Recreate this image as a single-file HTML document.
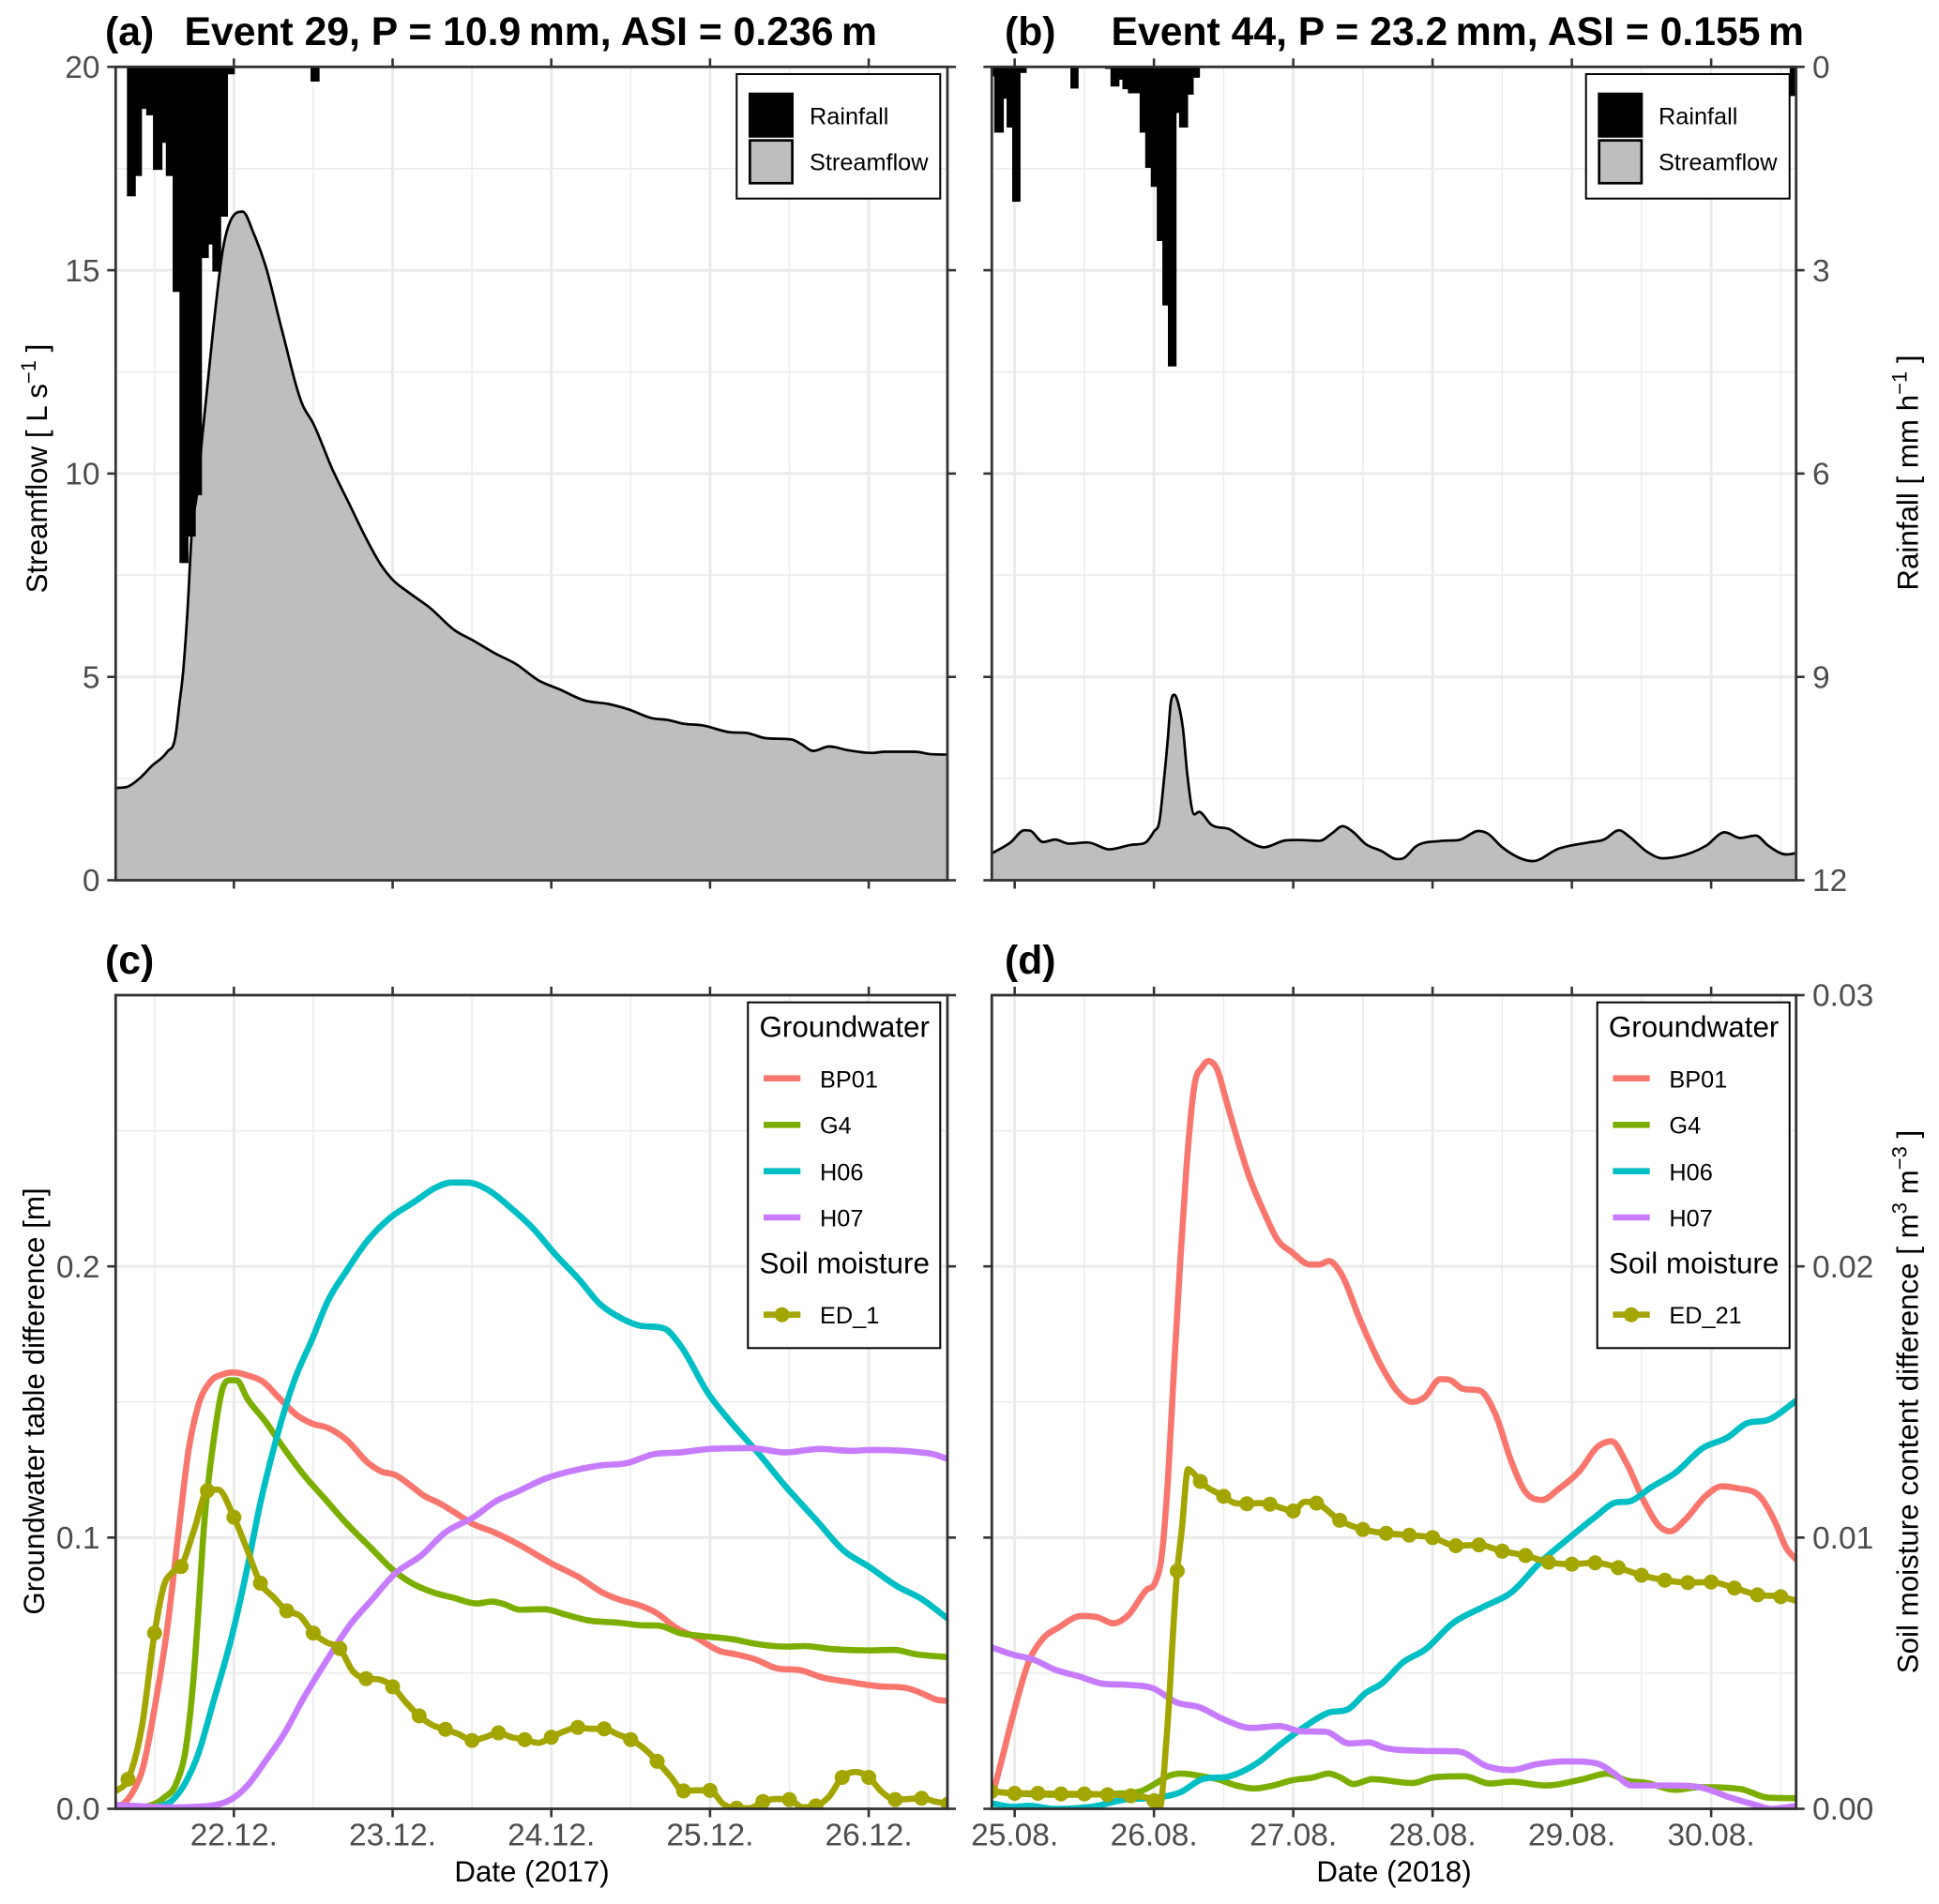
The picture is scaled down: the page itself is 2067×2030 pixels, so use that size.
<!DOCTYPE html>
<html lang="en">
<head>
<meta charset="utf-8">
<title>Event hydrographs</title>
<style>
html,body{margin:0;padding:0;background:#fff}
svg{display:block;font-family:"Liberation Sans",Arial,sans-serif}
.tick{font-size:33.5px;fill:#4d4d4d}
.axt{font-size:31.3px;fill:#000}
.ttl{font-size:42.7px;font-weight:bold;fill:#000}
.lgt{font-size:31.4px;fill:#000}
.lgl{font-size:25.3px;fill:#000}
</style>
</head>
<body>
<svg id="chart" xmlns="http://www.w3.org/2000/svg" width="2067" height="2030" viewBox="0 0 2067 2030">
<rect x="0" y="0" width="2067" height="2030" fill="#fff"/>
<defs>
<clipPath id="clip-a"><rect x="123.3" y="71.3" width="886.7" height="867.2"/></clipPath>
<clipPath id="clip-b"><rect x="1057.3" y="71.3" width="857.4" height="867.2"/></clipPath>
<clipPath id="clip-c"><rect x="123.3" y="1061" width="886.7" height="867.5"/></clipPath>
<clipPath id="clip-d"><rect x="1057.3" y="1061" width="857.4" height="867.5"/></clipPath>
</defs>
<g id="marks"></g>

<text class="ttl" x="112" y="48">(a)</text>
<text class="ttl" x="196.5" y="48">Event 29, P = 10.9&#8201;mm, ASI = 0.236&#8201;m</text>
<text class="ttl" x="1071" y="48">(b)</text>
<text class="ttl" x="1184.5" y="48">Event 44, P = 23.2&#8201;mm, ASI = 0.155&#8201;m</text>
<text class="ttl" x="112" y="1038">(c)</text>
<text class="ttl" x="1071" y="1038">(d)</text>

<text class="axt" transform="translate(50,499.5) rotate(-90)" text-anchor="middle">Streamflow [ L s<tspan font-size="22" dy="-12">&#8722;1</tspan><tspan dy="12"> ]</tspan></text>
<text class="axt" transform="translate(2044.5,504) rotate(-90)" text-anchor="middle">Rainfall [ mm h<tspan font-size="22" dy="-12">&#8722;1</tspan><tspan dy="12"> ]</tspan></text>
<text class="axt" transform="translate(47,1494) rotate(-90)" text-anchor="middle">Groundwater table difference [m]</text>
<text class="axt" transform="translate(2044.5,1494.5) rotate(-90)" text-anchor="middle">Soil moisture content difference [ m<tspan font-size="22" dy="-12">3</tspan><tspan dy="12"> m</tspan><tspan font-size="22" dy="-12">&#8722;3</tspan><tspan dy="12"> ]</tspan></text>
<text class="axt" x="567" y="2006" text-anchor="middle">Date (2017)</text>
<text class="axt" x="1486" y="2006" text-anchor="middle">Date (2018)</text>

<g>
<rect x="785.3" y="79" width="217" height="132.7" fill="#fff" stroke="#000" stroke-width="2"/>
<rect x="798" y="98.7" width="48" height="48" fill="#000"/>
<rect x="799.4" y="149.7" width="45.2" height="45.6" fill="#bebebe" stroke="#000" stroke-width="2.7"/>
<text class="lgl" x="863" y="132.3">Rainfall</text>
<text class="lgl" x="863" y="181.7">Streamflow</text>
</g>
<g>
<rect x="1690.7" y="79" width="217" height="132.7" fill="#fff" stroke="#000" stroke-width="2"/>
<rect x="1703.3" y="98.7" width="48" height="48" fill="#000"/>
<rect x="1704.7" y="149.7" width="45.2" height="45.6" fill="#bebebe" stroke="#000" stroke-width="2.7"/>
<text class="lgl" x="1768" y="132.3">Rainfall</text>
<text class="lgl" x="1768" y="181.7">Streamflow</text>
</g>
<g>
<rect x="797.3" y="1068.7" width="205" height="368.6" fill="#fff" stroke="#000" stroke-width="2"/>
<text class="lgt" x="809.5" y="1105.7">Groundwater</text>
<line x1="814" x2="853.3" y1="1149.7" y2="1149.7" stroke="#F8766D" stroke-width="6.6"/>
<text class="lgl" x="874" y="1159.3">BP01</text>
<line x1="814" x2="853.3" y1="1199.3" y2="1199.3" stroke="#7CAE00" stroke-width="6.6"/>
<text class="lgl" x="874" y="1208.7">G4</text>
<line x1="814" x2="853.3" y1="1248.7" y2="1248.7" stroke="#00BFC4" stroke-width="6.6"/>
<text class="lgl" x="874" y="1258.3">H06</text>
<line x1="814" x2="853.3" y1="1298" y2="1298" stroke="#C77CFF" stroke-width="6.6"/>
<text class="lgl" x="874" y="1307.7">H07</text>
<text class="lgt" x="809.5" y="1357.3">Soil moisture</text>
<line x1="814" x2="853.3" y1="1401.7" y2="1401.7" stroke="#A3A500" stroke-width="6.6"/>
<circle cx="833.6" cy="1401.7" r="8" fill="#A3A500"/>
<text class="lgl" x="874" y="1411">ED_1</text>
</g>
<g>
<rect x="1702.7" y="1068.7" width="205" height="368.6" fill="#fff" stroke="#000" stroke-width="2"/>
<text class="lgt" x="1714.9" y="1105.7">Groundwater</text>
<line x1="1719.4" x2="1758.7" y1="1149.7" y2="1149.7" stroke="#F8766D" stroke-width="6.6"/>
<text class="lgl" x="1779.4" y="1159.3">BP01</text>
<line x1="1719.4" x2="1758.7" y1="1199.3" y2="1199.3" stroke="#7CAE00" stroke-width="6.6"/>
<text class="lgl" x="1779.4" y="1208.7">G4</text>
<line x1="1719.4" x2="1758.7" y1="1248.7" y2="1248.7" stroke="#00BFC4" stroke-width="6.6"/>
<text class="lgl" x="1779.4" y="1258.3">H06</text>
<line x1="1719.4" x2="1758.7" y1="1298" y2="1298" stroke="#C77CFF" stroke-width="6.6"/>
<text class="lgl" x="1779.4" y="1307.7">H07</text>
<text class="lgt" x="1714.9" y="1357.3">Soil moisture</text>
<line x1="1719.4" x2="1758.7" y1="1401.7" y2="1401.7" stroke="#A3A500" stroke-width="6.6"/>
<circle cx="1739" cy="1401.7" r="8" fill="#A3A500"/>
<text class="lgl" x="1779.4" y="1411">ED_21</text>
</g>
</svg>

<script>
// ---------- Axis ticks ----------
const ticksDec = [22, 23, 24, 25, 26];
const ticksDecLabels = ['22.12.', '23.12.', '24.12.', '25.12.', '26.12.'];
const ticksAug = [25, 26, 27, 28, 29, 30];
const ticksAugLabels = ['25.08.', '26.08.', '27.08.', '28.08.', '29.08.', '30.08.'];
const streamTicks = [0, 5, 10, 15, 20];
const streamLabels = ['0', '5', '10', '15', '20'];
const rainTicks = [0, 3, 6, 9, 12];
const rainLabels = ['0', '3', '6', '9', '12'];
const gwTicks = [0, 0.1, 0.2];
const gwLabels = ['0.0', '0.1', '0.2'];
const soilTicks = [0, 0.01, 0.02, 0.03];
const soilLabels = ['0.00', '0.01', '0.02', '0.03'];

// ---------- Panel (a) streamflow [L/s] and rainfall [mm/h] ----------
const aFlowDays = [21.256,21.326,21.404,21.48,21.58,21.63,21.657,21.68,21.708,21.735,21.766,21.8,21.87,21.93,21.99,22.055,22.125,22.2,22.3,22.436,22.495,22.62,22.73,22.826,22.924,23,23.1,23.235,23.39,23.51,23.645,23.78,23.917,24.054,24.21,24.365,24.48,24.64,24.736,24.83,24.95,25.125,25.235,25.34,25.515,25.574,25.65,25.75,25.866,26.02,26.1,26.295,26.39,26.5];
const aFlowVals = [2.27,2.295,2.5,2.8,3.16,3.5,4.35,5.12,6.65,8.58,9.47,10.88,13.57,15.5,16.3,16.44,15.9,15.1,13.57,11.66,11.27,10.11,9.23,8.46,7.77,7.39,7.08,6.7,6.15,5.89,5.58,5.31,4.92,4.69,4.42,4.33,4.21,3.98,3.94,3.85,3.81,3.64,3.62,3.5,3.46,3.35,3.18,3.29,3.2,3.13,3.16,3.16,3.1,3.09];
const aRainEdges = [21.326,21.38,21.419,21.447,21.49,21.548,21.571,21.614,21.657,21.712,21.758,21.797,21.84,21.864,21.918,21.961,22.004,22.483,22.538];
const aRainVals = [1.91,1.61,0.62,0.715,1.52,1.12,1.61,3.32,7.32,6.93,6.32,2.82,2.62,3.02,2.21,0.11,0,0.217];

// ---------- Panel (b) streamflow and rainfall ----------
const bFlowDays = [24.836,24.97,25.07,25.11,25.204,25.29,25.39,25.524,25.68,25.835,25.93,26,26.04,26.066,26.1,26.12,26.146,26.18,26.208,26.24,26.29,26.323,26.41,26.545,26.656,26.79,26.945,27.034,27.19,27.28,27.354,27.425,27.52,27.633,27.744,27.79,27.88,28.055,28.19,28.33,28.39,28.5,28.72,28.9,29.12,29.23,29.34,29.41,29.54,29.65,29.76,29.964,30.097,30.21,30.32,30.41,30.54,30.617];
const bFlowVals = [0.66,0.93,1.23,1.22,0.94,1,0.9,0.93,0.76,0.87,0.91,1.2,1.47,2.27,3.5,4.35,4.56,4.27,3.73,2.58,1.62,1.68,1.37,1.25,1,0.81,0.98,0.99,0.97,1.16,1.33,1.2,0.89,0.72,0.52,0.54,0.83,0.965,0.99,1.21,1.16,0.81,0.47,0.77,0.93,1,1.23,1.08,0.7,0.54,0.58,0.85,1.18,1.04,1.1,0.85,0.635,0.67];
const bRainEdges = [24.836,24.853,24.92,24.942,24.982,25.04,25.084,25.4,25.457,25.648,25.688,25.75,25.773,25.813,25.857,25.897,25.937,25.977,26.02,26.06,26.1,26.16,26.18,26.243,26.283,26.328,30.564,30.617];
const bRainVals = [0.14,0.97,0.47,0.895,1.99,0.09,0,0.32,0,0.03,0.29,0.19,0.33,0.39,0.39,0.97,1.49,1.77,2.57,3.52,4.42,0.68,0.895,0.41,0.16,0,0.43];

// ---------- Panel (c) groundwater [m] and soil moisture [m3/m3] ----------
const cBp01Days = [21.256,21.287,21.365,21.423,21.5,21.58,21.657,21.715,21.774,21.852,21.93,22,22.086,22.183,22.28,22.4,22.495,22.59,22.71,22.846,22.924,23.02,23.12,23.196,23.294,23.39,23.5,23.645,23.8,24,24.17,24.33,24.42,24.58,24.66,24.79,24.91,25.07,25.16,25.28,25.42,25.57,25.71,25.87,26.06,26.24,26.33,26.43,26.5];
const cBp01Vals = [0,0.001,0.0064,0.0143,0.037,0.0666,0.105,0.1325,0.1484,0.1575,0.1602,0.1609,0.1598,0.1575,0.1518,0.145,0.142,0.1405,0.136,0.1275,0.1245,0.123,0.1189,0.1155,0.1127,0.1093,0.1052,0.1018,0.0973,0.0905,0.0855,0.0795,0.0773,0.0745,0.0723,0.0666,0.0632,0.058,0.057,0.0552,0.0518,0.0511,0.0484,0.0468,0.0452,0.0445,0.0427,0.0402,0.0398];
const cG4Days = [21.256,21.46,21.56,21.64,21.7,21.755,21.774,21.813,21.87,21.93,21.97,22.016,22.086,22.2,22.32,22.436,22.573,22.71,22.865,23,23.12,23.255,23.39,23.53,23.625,23.7,23.8,23.956,24.09,24.23,24.424,24.56,24.68,24.81,24.97,25.145,25.28,25.476,25.59,25.77,26,26.16,26.295,26.5];
const cG4Vals = [0,0.001,0.0041,0.0098,0.0234,0.055,0.0711,0.1052,0.1348,0.1552,0.158,0.158,0.1511,0.1427,0.1325,0.1234,0.1143,0.1052,0.0961,0.0882,0.0832,0.0798,0.0777,0.0757,0.0764,0.0755,0.0734,0.0736,0.0716,0.0695,0.0686,0.0677,0.0675,0.0648,0.0636,0.0625,0.0609,0.0598,0.06,0.0589,0.0584,0.0586,0.057,0.0559];
const cH06Days = [21.256,21.5,21.62,21.696,21.774,21.87,21.99,22.086,22.164,22.26,22.378,22.495,22.59,22.71,22.846,22.98,23.14,23.274,23.37,23.47,23.606,23.74,23.88,24.03,24.17,24.31,24.424,24.54,24.716,24.81,24.99,25.145,25.3,25.476,25.67,25.846,26,26.18,26.33,26.5];
const cH06Vals = [0,0.0007,0.0036,0.0098,0.02,0.0393,0.0643,0.0893,0.112,0.1348,0.1575,0.1734,0.187,0.1984,0.2098,0.2177,0.2239,0.2291,0.2309,0.2309,0.228,0.2218,0.2143,0.2041,0.1955,0.1859,0.1814,0.1784,0.177,0.1711,0.153,0.1416,0.1314,0.1189,0.1064,0.095,0.0893,0.082,0.0775,0.07];
const cH07Days = [21.256,21.44,21.58,21.85,22,22.086,22.2,22.32,22.436,22.59,22.73,22.865,23.02,23.18,23.33,23.51,23.645,23.8,23.956,24.11,24.31,24.48,24.64,24.81,25,25.26,25.476,25.69,25.885,26.02,26.295,26.41,26.5];
const cH07Vals = [0.0014,0.0009,0.0005,0.0011,0.0041,0.0086,0.0177,0.028,0.0405,0.0552,0.0677,0.0768,0.087,0.0934,0.1018,0.1075,0.1132,0.1173,0.1216,0.1243,0.1266,0.1275,0.1307,0.1314,0.1327,0.133,0.1314,0.1327,0.132,0.1323,0.1316,0.1307,0.1289];
const cEd1Days = [21.256,21.333,21.42,21.5,21.56,21.61,21.667,21.75,21.833,21.9,22,22.08,22.167,22.25,22.333,22.417,22.5,22.583,22.667,22.75,22.833,22.917,23,23.083,23.167,23.25,23.333,23.417,23.5,23.583,23.667,23.75,23.833,23.917,24,24.083,24.167,24.25,24.333,24.417,24.5,24.583,24.667,24.75,24.833,24.917,25,25.083,25.167,25.25,25.333,25.417,25.5,25.583,25.667,25.75,25.833,25.917,26,26.083,26.167,26.25,26.333,26.417,26.5];
const cEd1Vals = [0.00064,0.00109,0.00302,0.00648,0.00825,0.0087,0.00893,0.0103,0.01173,0.01177,0.01075,0.00961,0.00832,0.0078,0.0073,0.00711,0.00648,0.00614,0.00591,0.00507,0.0048,0.00477,0.0045,0.00393,0.00343,0.00309,0.00293,0.00275,0.00252,0.00264,0.0028,0.00264,0.00255,0.00243,0.00264,0.00286,0.003,0.00295,0.00295,0.00275,0.00255,0.00223,0.00175,0.0012,0.00066,0.00068,0.00068,0.00018,0.00002,0.00002,0.00027,0.00036,0.00034,0.00006,0.00011,0.00045,0.00116,0.00136,0.00116,0.00062,0.00034,0.00036,0.00039,0.00027,0.00018];

// ---------- Panel (d) groundwater and soil moisture ----------
const dBp01Days = [24.836,24.9,24.99,25.1,25.19,25.32,25.48,25.59,25.71,25.81,25.946,26.01,26.057,26.1,26.146,26.19,26.234,26.29,26.345,26.39,26.45,26.52,26.59,26.68,26.79,26.887,26.99,27.12,27.19,27.256,27.344,27.48,27.633,27.744,27.855,27.944,28.055,28.12,28.21,28.344,28.455,28.566,28.655,28.788,28.9,29.054,29.187,29.285,29.387,29.52,29.63,29.707,29.81,29.964,30.075,30.187,30.364,30.453,30.54,30.617];
const dBp01Vals = [0.0041,0.0166,0.0348,0.0541,0.062,0.067,0.0711,0.0707,0.0684,0.0711,0.0807,0.0836,0.0939,0.1211,0.1643,0.203,0.237,0.2666,0.2734,0.2757,0.273,0.2609,0.2484,0.2336,0.22,0.2098,0.2052,0.2007,0.2007,0.202,0.1973,0.1802,0.1632,0.1541,0.15,0.1518,0.1584,0.1582,0.155,0.1541,0.145,0.128,0.1177,0.1139,0.1177,0.1245,0.1336,0.1355,0.128,0.1132,0.1041,0.1023,0.1064,0.1155,0.1189,0.1182,0.1143,0.1064,0.0961,0.0916];
const dG4Days = [24.836,25,25.346,25.7,25.9,26.01,26.1,26.19,26.345,26.456,26.59,26.72,26.856,26.99,27.145,27.256,27.344,27.433,27.567,27.855,28.01,28.23,28.41,28.566,28.81,29.076,29.254,29.387,29.54,29.74,29.92,30.21,30.41,30.617];
const dG4Vals = [0.0064,0.0057,0.0052,0.0055,0.0064,0.0093,0.012,0.013,0.012,0.0109,0.0086,0.0075,0.0086,0.0105,0.0116,0.013,0.0114,0.0091,0.0109,0.0095,0.0116,0.012,0.0093,0.01,0.0086,0.0109,0.013,0.0105,0.0095,0.007,0.008,0.0073,0.0041,0.0039];
const dH06Days = [24.836,24.99,25.1,25.28,25.57,25.79,26.01,26.19,26.345,26.545,26.745,26.9,27.08,27.256,27.39,27.52,27.633,27.79,27.944,28.144,28.366,28.566,28.766,28.988,29.165,29.3,29.43,29.565,29.743,29.94,30.12,30.25,30.41,30.617];
const dH06Vals = [0.002,0.0007,0.0011,0,0.0009,0.0034,0.0041,0.0061,0.0109,0.012,0.017,0.0234,0.0302,0.0355,0.0366,0.0427,0.0461,0.0541,0.0586,0.0684,0.0745,0.0798,0.0905,0.1002,0.1075,0.1127,0.1136,0.1184,0.1239,0.133,0.137,0.142,0.1434,0.1507];
const dH07Days = [24.836,24.99,25.124,25.3,25.457,25.635,25.81,25.99,26.168,26.323,26.5,26.7,26.9,27.056,27.234,27.4,27.544,27.655,27.92,28.19,28.39,28.566,28.743,28.966,29.187,29.3,29.43,29.7,29.94,30.14,30.32,30.43,30.617];
const dH07Vals = [0.0595,0.0568,0.0552,0.0511,0.0489,0.0461,0.0457,0.0445,0.0391,0.0375,0.033,0.0298,0.0305,0.0286,0.0284,0.0241,0.0245,0.0225,0.0214,0.0211,0.0157,0.0143,0.0164,0.0175,0.0166,0.0132,0.0086,0.0086,0.0077,0.0041,0.0014,0,0.0011];
const dEd21Days = [24.833,25,25.167,25.333,25.5,25.667,25.833,26,26.04,26.09,26.167,26.2,26.245,26.28,26.333,26.5,26.583,26.667,26.75,26.833,26.917,27,27.083,27.167,27.333,27.5,27.667,27.833,28,28.167,28.333,28.5,28.667,28.833,29,29.167,29.333,29.5,29.667,29.833,30,30.167,30.333,30.5,30.617];
const dEd21Vals = [0.00064,0.00057,0.00057,0.00055,0.00055,0.00052,0.00048,0.0003,0,0.00257,0.00877,0.0103,0.01252,0.01239,0.01207,0.01152,0.01127,0.01125,0.01127,0.01123,0.01109,0.01098,0.01132,0.01127,0.01064,0.0103,0.01016,0.01009,0.01,0.0097,0.00973,0.0095,0.00934,0.00909,0.00902,0.00907,0.00889,0.00861,0.00843,0.00834,0.00836,0.00814,0.00789,0.00782,0.00766];

// ---------- Axis functions ----------
const NS = 'http://www.w3.org/2000/svg';
const root = document.getElementById('marks');
function linear(d0, d1, r0, r1) {
  return function (v) { return r0 + (v - d0) / (d1 - d0) * (r1 - r0); };
}
const leftCol = [123.3, 1010];
const rightCol = [1057.3, 1914.7];
const topRow = [71.3, 938.5];
const botRow = [1061, 1928.5];
const xDec = linear(21.255, 26.496, leftCol[0], leftCol[1]);
const xAug = linear(24.836, 30.61, rightCol[0], rightCol[1]);
const yStream = linear(0, 20, topRow[1], topRow[0]);
const yRain = linear(0, 12, topRow[0], topRow[1]);
const yGw = linear(0, 0.3, botRow[1], botRow[0]);
const ySoil = linear(0, 0.03, botRow[1], botRow[0]);

function add(parent, tag, name) {
  const el = document.createElementNS(NS, tag);
  
  
  parent.appendChild(el);
  return el;
}
function seg(parent, name, x1, y1, x2, y2, color, width) {
  const l = add(parent, 'line', name);
  l.setAttribute('x1', x1); l.setAttribute('y1', y1);
  l.setAttribute('x2', x2); l.setAttribute('y2', y2);
  l.setAttribute('stroke', color); l.setAttribute('stroke-width', width);
  return l;
}
function label(parent, name, x, y, text, anchor) {
  const t = add(parent, 'text', name);
  t.setAttribute('class', 'tick');
  t.setAttribute('x', x); t.setAttribute('y', y);
  t.setAttribute('dy', '0.35em');
  t.setAttribute('text-anchor', anchor);
  t.textContent = text;
  return t;
}
// cubic curve with finite-difference tangents, limited so it never overshoots
function curve(px, py) {
  const n = px.length, s = [], m = [];
  for (let i = 0; i < n - 1; i++) s.push((py[i + 1] - py[i]) / (px[i + 1] - px[i]));
  m[0] = s[0]; m[n - 1] = s[n - 2];
  for (let i = 1; i < n - 1; i++) {
    if (s[i - 1] * s[i] <= 0) { m[i] = 0; continue; }
    const h0 = px[i] - px[i - 1], h1 = px[i + 1] - px[i];
    const p = (s[i - 1] * h1 + s[i] * h0) / (h0 + h1);
    const lim = 3 * Math.min(Math.abs(s[i - 1]), Math.abs(s[i]));
    m[i] = Math.sign(p) * Math.min(Math.abs(p), lim);
  }
  let d = 'M' + px[0].toFixed(2) + ',' + py[0].toFixed(2);
  for (let i = 0; i < n - 1; i++) {
    const h = (px[i + 1] - px[i]) / 3;
    d += 'C' + (px[i] + h).toFixed(2) + ',' + (py[i] + m[i] * h).toFixed(2) + ' ' +
      (px[i + 1] - h).toFixed(2) + ',' + (py[i + 1] - m[i + 1] * h).toFixed(2) + ' ' +
      px[i + 1].toFixed(2) + ',' + py[i + 1].toFixed(2);
  }
  return d;
}

function gridFor(g, x, xr, yr, xMajor, xMinor, yMajorPx, yMinorPx) {
  xMinor.forEach(function (d) { seg(g, 'grid-minor-x', x(d), yr[0], x(d), yr[1], '#ebebeb', 1.5); });
  yMinorPx.forEach(function (y) { seg(g, 'grid-minor-y', xr[0], y, xr[1], y, '#ebebeb', 1.5); });
  xMajor.forEach(function (d) { seg(g, 'grid-major-x', x(d), yr[0], x(d), yr[1], '#ebebeb', 3); });
  yMajorPx.forEach(function (y) { seg(g, 'grid-major-y', xr[0], y, xr[1], y, '#ebebeb', 3); });
}

function drawFlow(g, x, days, vals) {
  const px = days.map(x), py = vals.map(yStream);
  const line = curve(px, py);
  const area = add(g, 'path', 'streamflow-area');
  area.setAttribute('d', line + 'L' + px[px.length - 1] + ',' + yStream(0) + 'L' + px[0] + ',' + yStream(0) + 'Z');
  area.setAttribute('fill', '#bebebe');
  const stroke = add(g, 'path', 'streamflow-line');
  stroke.setAttribute('d', line);
  stroke.setAttribute('fill', 'none');
  stroke.setAttribute('stroke', '#000');
  stroke.setAttribute('stroke-width', '2.7');
}
function drawRain(g, x, edges, vals) {
  vals.forEach(function (v, i) {
    if (v <= 0) return;
    const r = add(g, 'rect', 'rainfall-bar');
    r.setAttribute('x', x(edges[i]));
    r.setAttribute('width', x(edges[i + 1]) - x(edges[i]) + 0.3);
    r.setAttribute('y', yRain(0));
    r.setAttribute('height', yRain(v) - yRain(0));
    r.setAttribute('fill', '#000');
  });
}
function drawLine(g, name, color, x, y, days, vals) {
  const p = add(g, 'path', name);
  p.setAttribute('d', curve(days.map(x), vals.map(y)));
  p.setAttribute('fill', 'none');
  p.setAttribute('stroke', color);
  p.setAttribute('stroke-width', '6.6');
  p.setAttribute('stroke-linejoin', 'round');
}
function drawMarkers(g, name, color, x, y, days, vals) {
  days.forEach(function (d, i) {
    if (Math.abs(d * 6 - Math.round(d * 6)) > 0.02) return;
    const c = add(g, 'circle', name);
    c.setAttribute('cx', x(d));
    c.setAttribute('cy', y(vals[i]));
    c.setAttribute('r', '8');
    c.setAttribute('fill', color);
  });
}
function frame(g, xr, yr, x, xTicks, leftPx, rightPx) {
  const b = add(g, 'rect', 'panel-border');
  b.setAttribute('x', xr[0]); b.setAttribute('y', yr[0]);
  b.setAttribute('width', xr[1] - xr[0]); b.setAttribute('height', yr[1] - yr[0]);
  b.setAttribute('fill', 'none'); b.setAttribute('stroke', '#333'); b.setAttribute('stroke-width', '2.8');
  xTicks.forEach(function (d) {
    seg(g, 'x-tick-top', x(d), yr[0] - 9, x(d), yr[0], '#333', 2.6);
    seg(g, 'x-tick-bottom', x(d), yr[1], x(d), yr[1] + 9, '#333', 2.6);
  });
  leftPx.forEach(function (y) { seg(g, 'y-tick-left', xr[0] - 9, y, xr[0], y, '#333', 2.6); });
  rightPx.forEach(function (y) { seg(g, 'y-tick-right', xr[1], y, xr[1] + 9, y, '#333', 2.6); });
}

const decMinor = [21.5, 22.5, 23.5, 24.5, 25.5];
const augMinor = [25.5, 26.5, 27.5, 28.5, 29.5, 30.5];
const streamMinorVals = [2.5, 7.5, 12.5, 17.5];
const gwMinorVals = [0.05, 0.15, 0.25];
const gwGridVals = [0, 0.1, 0.2, 0.3];

// ----- Panel a -----
const pa = add(root, 'g', 'panel-a-streamflow-2017');
gridFor(pa, xDec, leftCol, topRow, ticksDec, decMinor, streamTicks.map(yStream), streamMinorVals.map(yStream));
const pac = add(pa, 'g', 'panel-a-series');
pac.setAttribute('clip-path', 'url(#clip-a)');
drawFlow(pac, xDec, aFlowDays, aFlowVals);
drawRain(pac, xDec, aRainEdges, aRainVals);
frame(pa, leftCol, topRow, xDec, ticksDec, streamTicks.map(yStream), streamTicks.map(yStream));
streamTicks.forEach(function (v, i) { label(pa, 'streamflow-tick-label', 106.5, yStream(v), streamLabels[i], 'end'); });

// ----- Panel b -----
const pb = add(root, 'g', 'panel-b-streamflow-2018');
gridFor(pb, xAug, rightCol, topRow, ticksAug, augMinor, streamTicks.map(yStream), streamMinorVals.map(yStream));
const pbc = add(pb, 'g', 'panel-b-series');
pbc.setAttribute('clip-path', 'url(#clip-b)');
drawFlow(pbc, xAug, bFlowDays, bFlowVals);
drawRain(pbc, xAug, bRainEdges, bRainVals);
frame(pb, rightCol, topRow, xAug, ticksAug, streamTicks.map(yStream), rainTicks.map(yRain));
rainTicks.forEach(function (v, i) { label(pb, 'rainfall-tick-label', 1932, yRain(v), rainLabels[i], 'start'); });

// ----- Panel c -----
const pc = add(root, 'g', 'panel-c-groundwater-2017');
gridFor(pc, xDec, leftCol, botRow, ticksDec, decMinor, gwGridVals.map(yGw), gwMinorVals.map(yGw));
const pcc = add(pc, 'g', 'panel-c-series');
pcc.setAttribute('clip-path', 'url(#clip-c)');
drawLine(pcc, 'series-bp01', '#F8766D', xDec, yGw, cBp01Days, cBp01Vals);
drawLine(pcc, 'series-g4', '#7CAE00', xDec, yGw, cG4Days, cG4Vals);
drawLine(pcc, 'series-h06', '#00BFC4', xDec, yGw, cH06Days, cH06Vals);
drawLine(pcc, 'series-h07', '#C77CFF', xDec, yGw, cH07Days, cH07Vals);
drawLine(pcc, 'series-ed1', '#A3A500', xDec, ySoil, cEd1Days, cEd1Vals);
drawMarkers(pcc, 'marker-ed1', '#A3A500', xDec, ySoil, cEd1Days, cEd1Vals);
frame(pc, leftCol, botRow, xDec, ticksDec, gwTicks.map(yGw), soilTicks.map(ySoil));
gwTicks.forEach(function (v, i) { label(pc, 'groundwater-tick-label', 106.5, yGw(v), gwLabels[i], 'end'); });
ticksDec.forEach(function (d, i) { label(pc, 'date-tick-label', xDec(d), 1956, ticksDecLabels[i], 'middle'); });

// ----- Panel d -----
const pd = add(root, 'g', 'panel-d-groundwater-2018');
gridFor(pd, xAug, rightCol, botRow, ticksAug, augMinor, gwGridVals.map(yGw), gwMinorVals.map(yGw));
const pdc = add(pd, 'g', 'panel-d-series');
pdc.setAttribute('clip-path', 'url(#clip-d)');
drawLine(pdc, 'series-bp01', '#F8766D', xAug, yGw, dBp01Days, dBp01Vals);
drawLine(pdc, 'series-g4', '#7CAE00', xAug, yGw, dG4Days, dG4Vals);
drawLine(pdc, 'series-h06', '#00BFC4', xAug, yGw, dH06Days, dH06Vals);
drawLine(pdc, 'series-h07', '#C77CFF', xAug, yGw, dH07Days, dH07Vals);
drawLine(pdc, 'series-ed21', '#A3A500', xAug, ySoil, dEd21Days, dEd21Vals);
drawMarkers(pdc, 'marker-ed21', '#A3A500', xAug, ySoil, dEd21Days, dEd21Vals);
frame(pd, rightCol, botRow, xAug, ticksAug, gwTicks.map(yGw), soilTicks.map(ySoil));
soilTicks.forEach(function (v, i) { label(pd, 'soil-moisture-tick-label', 1932, ySoil(v), soilLabels[i], 'start'); });
ticksAug.forEach(function (d, i) { label(pd, 'date-tick-label', xAug(d), 1956, ticksAugLabels[i], 'middle'); });
</script>
</body>
</html>
